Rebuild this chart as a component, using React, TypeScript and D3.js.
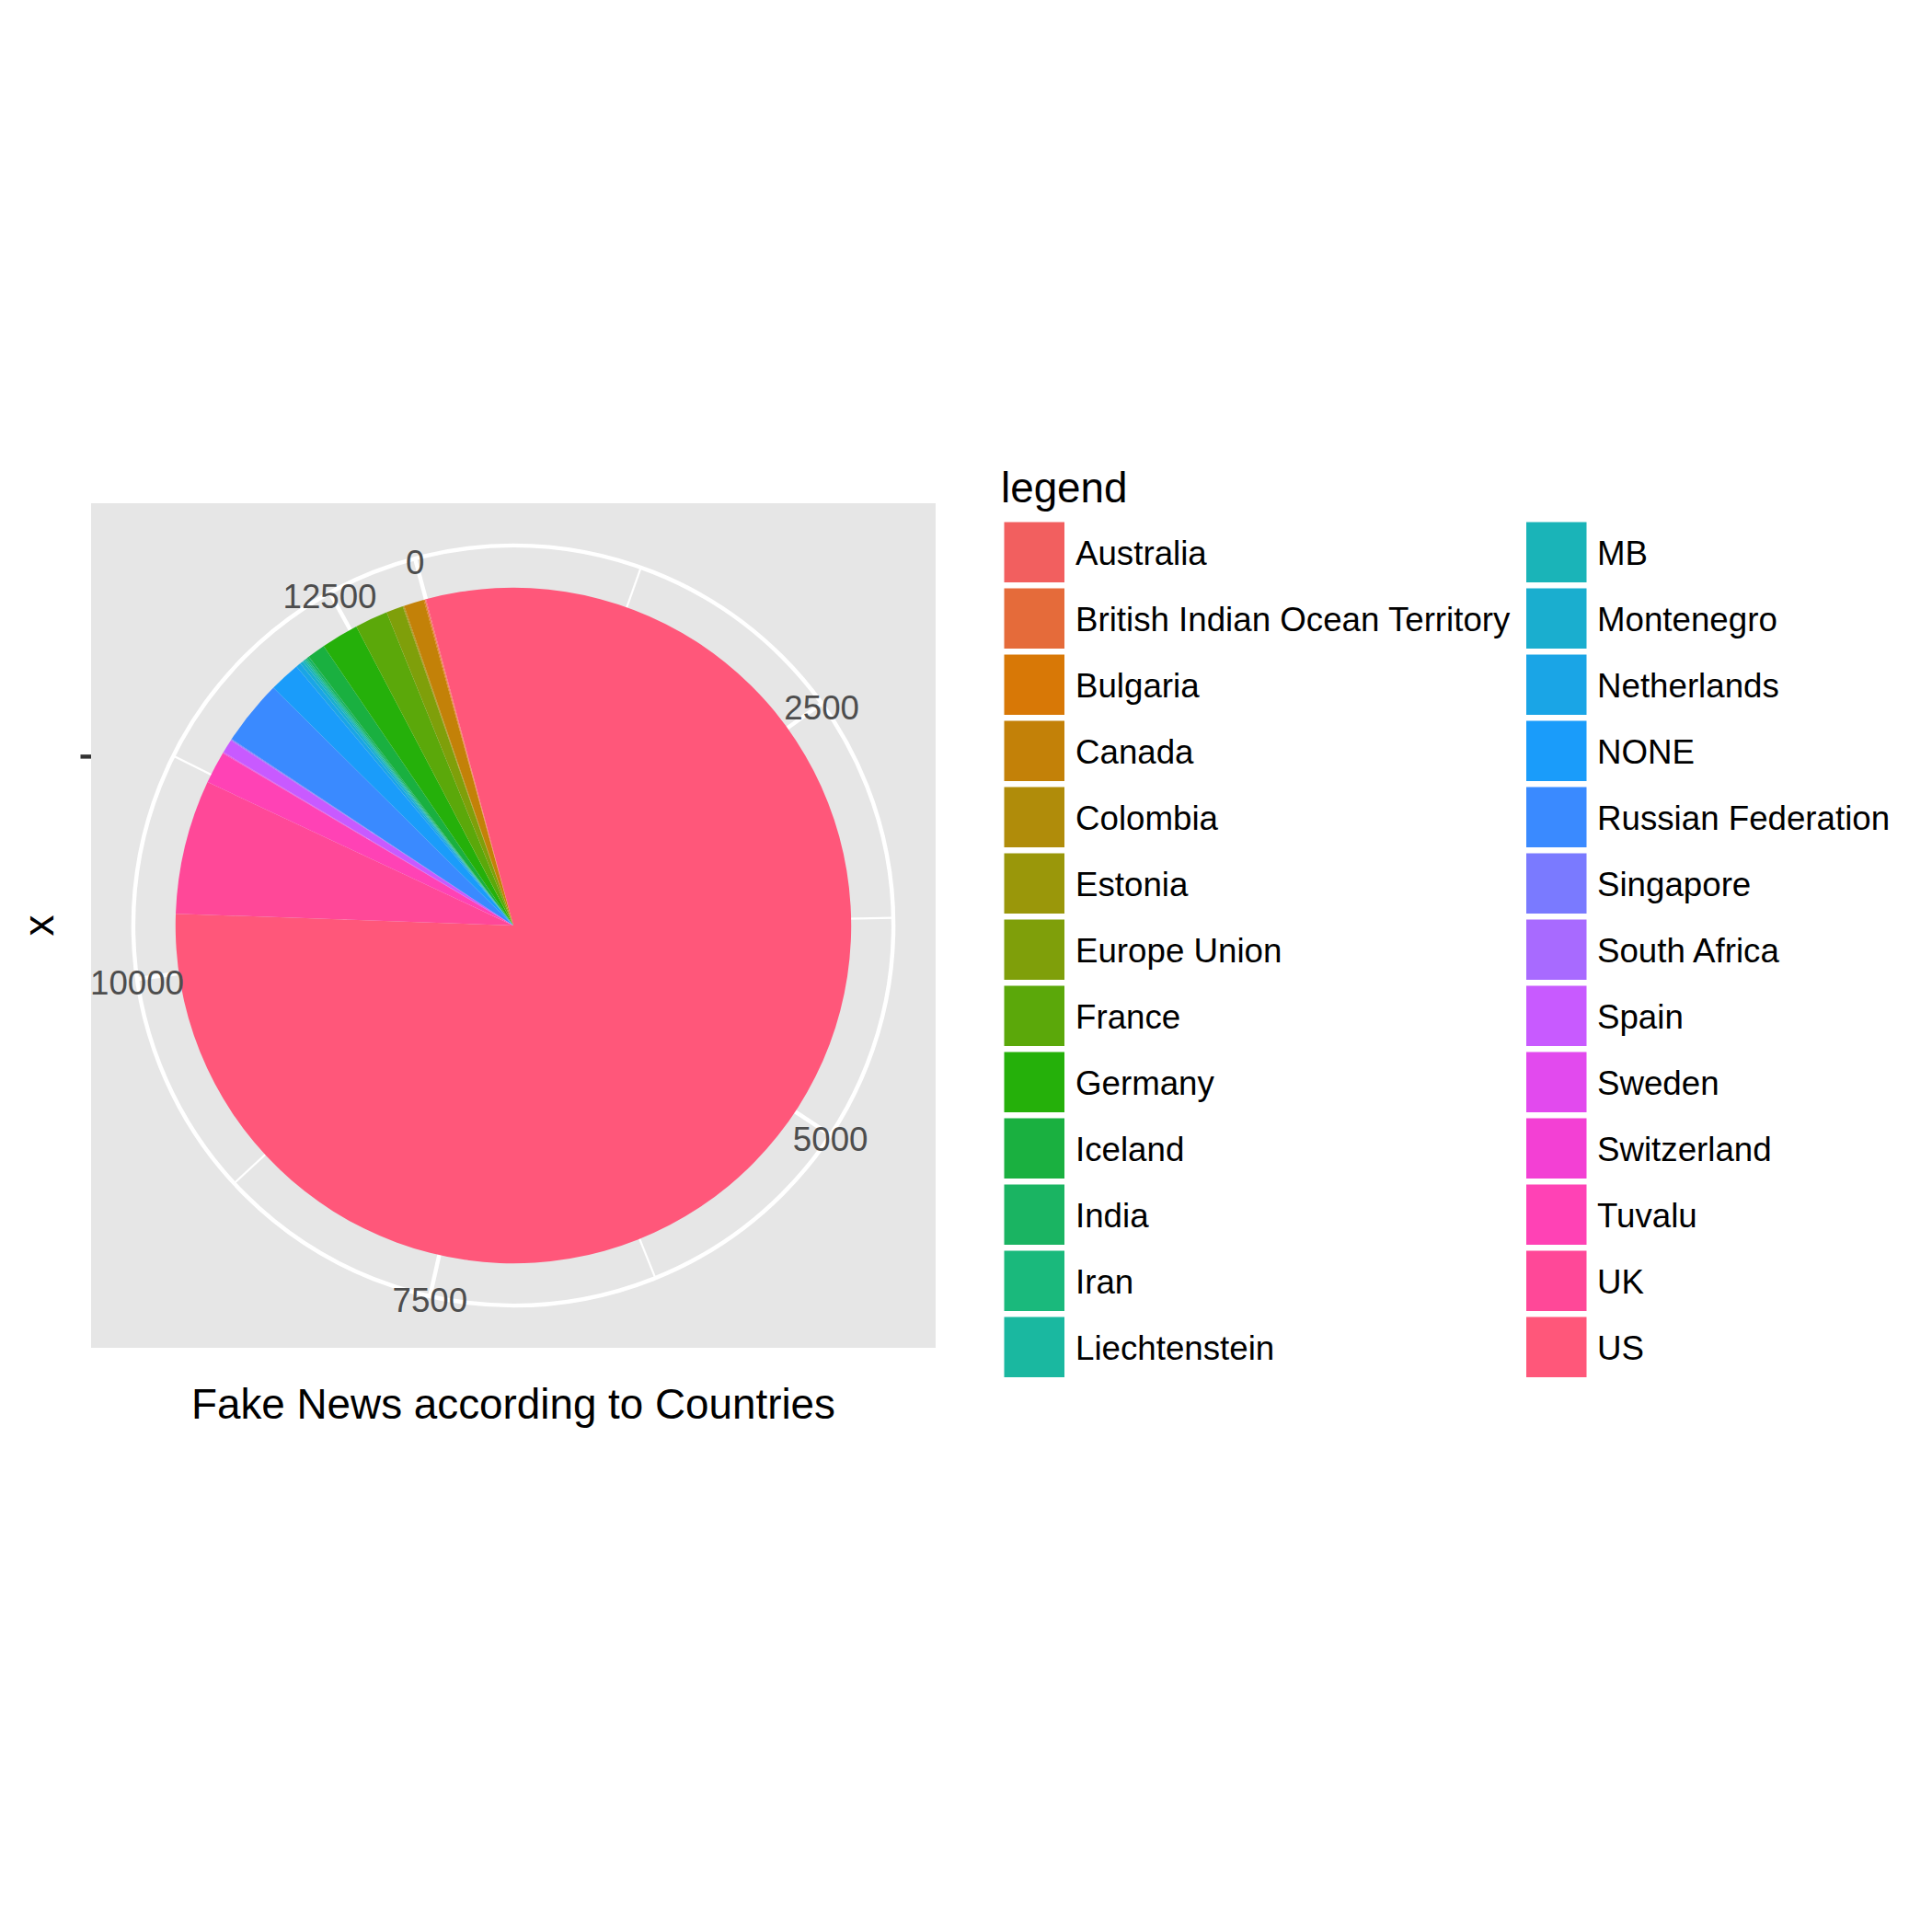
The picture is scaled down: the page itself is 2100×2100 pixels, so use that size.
import React from 'react';
import * as d3 from 'd3';

// legend order (factor levels)
const countries = [
  'Australia', 'British Indian Ocean Territory', 'Bulgaria', 'Canada', 'Colombia',
  'Estonia', 'Europe Union', 'France', 'Germany', 'Iceland', 'India', 'Iran',
  'Liechtenstein', 'MB', 'Montenegro', 'Netherlands', 'NONE', 'Russian Federation',
  'Singapore', 'South Africa', 'Spain', 'Sweden', 'Switzerland', 'Tuvalu', 'UK', 'US'
];
const counts = [
  5, 3, 6, 125, 5,
  5, 105, 205, 233, 112, 15, 10,
  10, 12, 20, 30, 192, 406,
  4, 5, 85, 4, 4, 200, 835, 10365
];
const majorTicks = [0, 2500, 5000, 7500, 10000, 12500];
const minorTicks = [1250, 3750, 6250, 8750, 11250];

const FONT = '"Liberation Sans", Arial, Helvetica, sans-serif';

// hue palette as it shows up in the picture
const palette = [
  '#F25F5F', '#E56B3A', '#D87806', '#C38108', '#B08C0A', '#9A970A', '#7F9F0A',
  '#5BA80A', '#25B00A', '#1AB040', '#1AB462', '#1AB97C', '#1AB8A0',
  '#1AB4B8', '#1AAECF', '#1AA5E6', '#1A9CFA', '#3A8AFF', '#7A7AFF', '#A86AFF',
  '#C85AFF', '#E24AEE', '#F340D4', '#FF42B5', '#FF4898', '#FF577A'
];
const color = d3.scaleOrdinal<string, string>().domain(countries).range(palette);

export default function App() {
  const px = 99, py = 547, size = 918;
  const cx = px + size / 2, cy = py + size / 2;
  const rPie = 0.4 * size, rOuter = 0.45 * size, rInner = 0.2 * size;
  const start = -Math.PI / 12;

  const total = d3.sum(counts);
  const theta = d3.scaleLinear().domain([0, total]).range([start, start + 2 * Math.PI]);

  // stacking puts the last level at the bottom, so it comes first clockwise
  const rows = countries.map((c, i) => ({ country: c, value: counts[i] })).reverse();
  const pie = d3.pie<any>().value(d => d.value).sort(null)
    .startAngle(start).endAngle(start + 2 * Math.PI);
  const arcs = pie(rows);
  const arc = d3.arc<any>().innerRadius(0).outerRadius(rPie);

  const pt = (r: number, a: number) => [cx + r * Math.sin(a), cy - r * Math.cos(a)];

  const rowScale = d3.scaleBand<number>().domain(d3.range(13)).range([567.5, 567.5 + 13 * 72]);
  const colKeyX = [1091.5, 1659];
  const colLabX = [1169, 1736];

  return (
    <svg width={2100} height={2100} style={{ position: 'absolute', left: 0, top: 0, background: '#fff' }}>
      <rect x={0} y={0} width={2100} height={2100} fill="#fff" />
      <rect x={px} y={py} width={size} height={size} fill="#E6E6E6" />
      {/* inner radius grid circle (hidden by the pie) */}
      <circle cx={cx} cy={cy} r={rInner} fill="none" stroke="#fff" strokeWidth={4.45} />
      {majorTicks.map(t => {
        const [x2, y2] = pt(rOuter, theta(t));
        return <line key={'M' + t} x1={cx} y1={cy} x2={x2} y2={y2} stroke="#fff" strokeWidth={4.45} />;
      })}
      {minorTicks.map(t => {
        const [x2, y2] = pt(rOuter, theta(t));
        return <line key={'m' + t} x1={cx} y1={cy} x2={x2} y2={y2} stroke="#fff" strokeWidth={2.2} />;
      })}
      <circle cx={cx} cy={cy} r={rOuter} fill="none" stroke="#fff" strokeWidth={4.45} />
      <g transform={`translate(${cx},${cy})`}>
        {arcs.map(a => (
          <path key={a.data.country} d={arc(a) as string} fill={color(a.data.country)} />
        ))}
      </g>
      {majorTicks.map(t => {
        const [x, y] = pt(rOuter, theta(t));
        return (
          <text key={'l' + t} x={x} y={y + 17} textAnchor="middle" fontFamily={FONT}
            fontSize={36.7} fill="#4D4D4D">{t}</text>
        );
      })}
      {/* r axis: one empty category */}
      <line x1={87.5} y1={cy - rInner} x2={px} y2={cy - rInner} stroke="#333333" strokeWidth={4.45} />
      <text transform={`translate(57.6,${cy}) rotate(-90)`} textAnchor="middle" fontFamily={FONT}
        fontSize={45.8} fill="#000">x</text>
      <text x={cx} y={1542} textAnchor="middle" fontFamily={FONT} fontSize={45.8} fill="#000">
        Fake News according to Countries
      </text>
      <text x={1088} y={546} fontFamily={FONT} fontSize={45.8} fill="#000">legend</text>
      {countries.map((c, i) => {
        const col = Math.floor(i / 13), row = i % 13;
        const y = rowScale(row) as number;
        return (
          <g key={'k' + c}>
            <rect x={colKeyX[col]} y={y} width={65.5} height={65.5} fill={color(c)} />
            <text x={colLabX[col]} y={y + 46} fontFamily={FONT} fontSize={36.7} fill="#000">{c}</text>
          </g>
        );
      })}
    </svg>
  );
}
